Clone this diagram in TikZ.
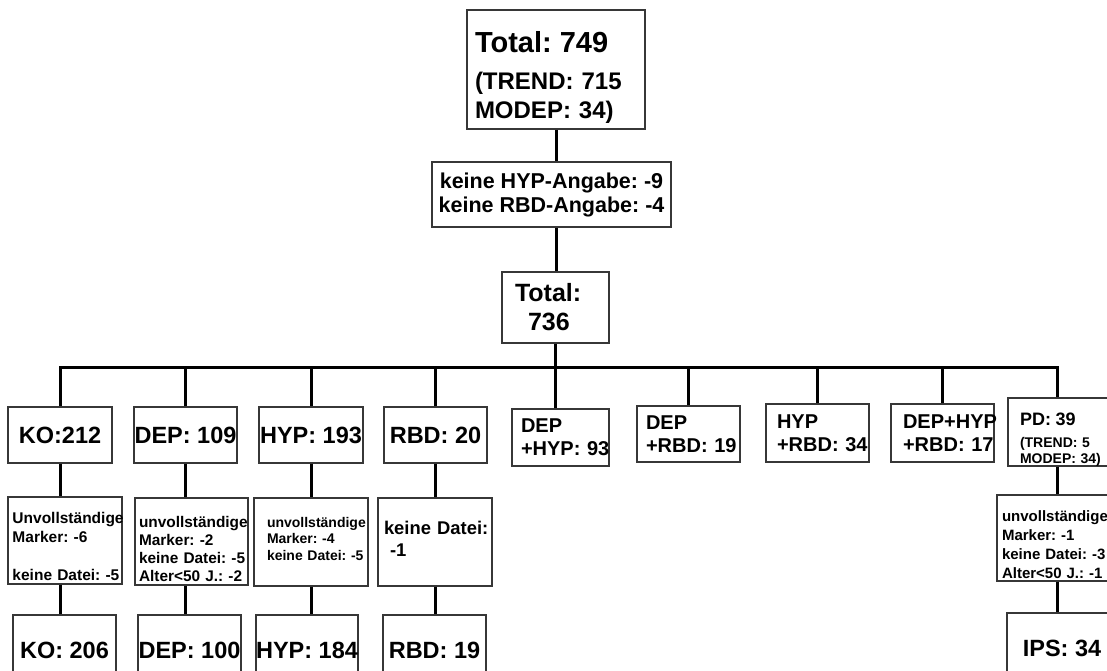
\documentclass[tikz,border=0pt]{standalone}
\usepackage{fontspec}
\setmainfont{Liberation Sans}
\usepackage{tikz}
\frenchspacing
\exhyphenpenalty=10000
\hyphenpenalty=10000
\definecolor{boxline}{RGB}{55,55,55}

\begin{document}
\begin{tikzpicture}[x=1pt, y=-1pt,
  box/.style={draw=boxline, line width=1.3pt, fill=white, inner sep=0pt},
  bignum/.style={box, align=center, font=\bfseries\fontsize{23.5}{28}\selectfont},
  duo/.style={box, align=left, font=\bfseries\fontsize{20}{23}\selectfont},
  filt/.style={box, align=left, font=\bfseries\fontsize{15.5}{19}\selectfont},
  link/.style={line width=3pt}]
  \useasboundingbox (0,0) rectangle (1107,670);
  \fill[white] (0,0) rectangle (1107,670);
  \clip (0,0) rectangle (1107,670);

  % upper part
  \node[box, align=left, inner xsep=8pt, text width=162pt, minimum height=119pt,
        font=\bfseries\fontsize{24}{29}\selectfont] (total) at (556,69.5)
    {{\fontsize{29}{29}\selectfont\rule{0pt}{36pt}Total:~749}\\[8pt](TREND:~715\\MODEP:~34)};
  \node[box, align=center, minimum width=239pt, minimum height=65pt,
        font=\bfseries\fontsize{21.5}{24}\selectfont] (excl) at (551.5,194.5)
    {keine HYP-Angabe: -9\\keine RBD-Angabe: -4};
  \node[box, align=left, inner xsep=13pt, text width=81pt, minimum height=71pt,
        font=\bfseries\fontsize{25}{29}\selectfont] (remain) at (555.5,307.5)
    {Total:\\\hspace*{13pt}736};
  \coordinate (bus) at (556,367);

  % groups
  \node[bignum, minimum width=104pt, minimum height=56pt] (ko) at (60,435) {KO:212};
  \node[bignum, minimum width=103pt, minimum height=56pt] (dep) at (185.5,435) {DEP: 109};
  \node[bignum, minimum width=104pt, minimum height=56pt] (hyp) at (311,435) {HYP: 193};
  \node[bignum, minimum width=103pt, minimum height=56pt] (rbd) at (435.5,435) {RBD: 20};
  \node[duo, inner xsep=9pt, text width=79pt, minimum height=57pt] (dephyp) at (560.5,437.5) {DEP\\+HYP:~93};
  \node[duo, inner xsep=9pt, text width=85pt, minimum height=56pt] (deprbd) at (688.5,434) {DEP\\+RBD:~19};
  \node[duo, inner xsep=11pt, text width=81pt, minimum height=58pt] (hyprbd) at (817.5,433) {HYP\\+RBD:~34};
  \node[duo, inner xsep=12pt, text width=79pt, minimum height=58pt] (all3) at (942.5,433) {DEP+HYP\\+RBD:~17};
  \node[box, align=left, inner xsep=12pt, text width=86pt, minimum height=58pt,
        font=\bfseries\fontsize{14}{16}\selectfont] (pd) at (1063,432)
    {{\fontsize{18}{18}\selectfont\rule{0pt}{27pt}PD:~39}\\[6pt](TREND:~5\\MODEP:~34)};

  % exclusions
  \node[filt, inner xsep=4.5pt, text width=105pt, minimum height=87pt] (kofilt) at (65,540.5)
    {\rule{0pt}{23pt}Unvollständige\\Marker:~-6\\[19pt]keine~Datei:~-5};
  \node[filt, inner xsep=4pt, text width=105pt, minimum height=87pt,
        font=\bfseries\fontsize{15.4}{18}\selectfont] (depfilt) at (191.5,541.5)
    {\rule{0pt}{27pt}unvollständige\\Marker:~-2\\keine~Datei:~-5\\Alter<50~J.:~-2};
  \node[filt, inner xsep=13pt, text width=88pt, minimum height=88pt,
        font=\bfseries\fontsize{14}{16.5}\selectfont] (hypfilt) at (311,542)
    {unvollständige\\Marker:~-4\\keine~Datei:~-5\rule[-7pt]{0pt}{7pt}};
  \node[filt, inner xsep=6pt, text width=102pt, minimum height=88pt,
        font=\bfseries\fontsize{18.4}{22}\selectfont] (rbdfilt) at (435,542)
    {keine~Datei:\\\hspace*{6pt}-1\rule[-7pt]{0pt}{7pt}};
  \node[filt, inner xsep=5pt, text width=110pt, minimum height=86pt,
        font=\bfseries\fontsize{15}{19}\selectfont] (pdfilt) at (1057,538)
    {\rule{0pt}{24pt}unvollständige\\Marker:~-1\\keine~Datei:~-3\\Alter<50~J.:~-1};

  % final counts
  \node[bignum, minimum width=103pt, minimum height=70pt] (kofin) at (64.5,650) {KO: 206};
  \node[bignum, minimum width=103pt, minimum height=70pt] (depfin) at (189.5,650) {DEP: 100};
  \node[bignum, minimum width=102pt, minimum height=70pt] (hypfin) at (307,650) {HYP: 184};
  \node[bignum, minimum width=103pt, minimum height=70pt] (rbdfin) at (434.5,650) {RBD: 19};
  \node[bignum, minimum width=110pt, minimum height=70pt] (ips) at (1062,648) {IPS: 34};

  % lines
  \draw[link] (total.south) -- (total.south |- excl.north);
  \draw[link] (total.south |- excl.south) -- (total.south |- remain.north);
  \draw[link] (remain.south) -- (remain.south |- bus);
  \draw[link, line cap=rect] (ko.north |- bus) -- (pdfilt.north |- bus);
  \foreach \n in {ko,dep,hyp,rbd,deprbd,hyprbd,all3}
    \draw[link] (\n.north |- bus) -- (\n.north);
  \draw[link] (remain.south |- bus) -- (remain.south |- dephyp.north);
  \draw[link] (pdfilt.north |- bus) -- (pdfilt.north |- pd.north);
  \foreach \a/\b/\c in {ko/kofilt/kofin, dep/depfilt/depfin, hyp/hypfilt/hypfin, rbd/rbdfilt/rbdfin} {
    \draw[link] (\a.south) -- (\a.south |- \b.north);
    \draw[link] (\a.south |- \b.south) -- (\a.south |- \c.north);
  }
  \draw[link] (pdfilt.north |- pd.south) -- (pdfilt.north);
  \draw[link] (pdfilt.south) -- (pdfilt.south |- ips.north);
\end{tikzpicture}
\end{document}
